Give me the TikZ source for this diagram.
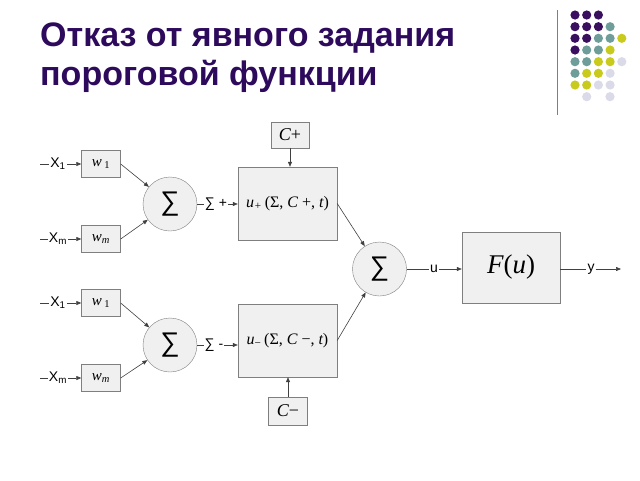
\documentclass[tikz,border=0pt]{standalone}
\usepackage{fontspec}
\setmainfont{Liberation Sans}
\newfontfamily\tnr{Liberation Serif}
\usetikzlibrary{arrows.meta}
\definecolor{ttl}{HTML}{2E0A5C}
\definecolor{dotp}{HTML}{3A0F5F}
\definecolor{dott}{HTML}{6F9E9A}
\definecolor{doty}{HTML}{C8CB1E}
\definecolor{dotl}{HTML}{DADAE8}
\definecolor{edgec}{HTML}{7F7F7F}
\definecolor{wirec}{HTML}{404040}
\newcommand{\dotrow}[2]{\foreach \c [count=\i] in {#2} {\fill[fill=dot\c] ({563.3+11.7*\i},#1) circle (4.6);}}

\begin{document}
\begin{tikzpicture}[x=1pt,y=-1pt,
	box/.style={draw=edgec,fill=black!6,inner sep=0pt},
	sumnode/.style={circle,draw=edgec,fill=black!6,minimum size=54pt,inner sep=0pt,font=\fontsize{27}{27}\selectfont},
	lbl/.style={inner sep=1pt,font=\fontsize{14}{14}\selectfont},
	wire/.style={draw=wirec,line width=0.6pt},
	>={Triangle[length=5pt,width=4pt]}]
		\useasboundingbox (0,0) rectangle (640,480);
		\node[anchor=base west,inner sep=0pt,text=ttl,font=\fontsize{34}{34}\bfseries\selectfont] (title1) at (40,46) {Отказ от явного задания};
		\node[anchor=base west,inner sep=0pt,text=ttl,font=\fontsize{34}{34}\bfseries\selectfont] (title2) at (40,85) {пороговой функции};
		\draw[edgec,line width=1pt] (557,10) -- (557,115);
		\dotrow{15}{p,p,p}
		\dotrow{26.7}{p,p,p,t}
		\dotrow{38.3}{p,p,t,t,y}
		\dotrow{50}{p,t,t,y}
		\dotrow{61.7}{t,t,y,y,l}
		\dotrow{73.3}{t,y,y,l}
		\dotrow{85}{y,y,l,l}
		\fill[dotl] (586.7,96.7) circle (4.6);
		\fill[dotl] (610,96.7) circle (4.6);

		\node[box,minimum width=39pt,minimum height=27pt] (w1a) at (101,164) {\tnr\fontsize{15}{15}\selectfont\itshape w\,\textsubscript{\upshape 1}};
		\node[box,minimum width=39pt,minimum height=27pt] (wma) at (101,239) {\tnr\fontsize{15}{15}\selectfont\itshape w\textsubscript{m}};
		\node[sumnode] (s1) at (170,204) {∑};
		\node[lbl] (x1a) at (58,164) {X\textsubscript{1}};
		\node[lbl] (xma) at (58,239) {X\textsubscript{m}};
		\coordinate (x1a0) at (40,164);
		\coordinate (xma0) at (40,239);
		\draw[wire] (x1a0) -- (x1a.west);
		\draw[wire,->] (x1a.east) -- (w1a.west);
		\draw[wire] (xma0) -- (xma.west);
		\draw[wire,->] (xma.east) -- (wma.west);
		\draw[wire,->] (w1a.east) -- (s1);
		\draw[wire,->] (wma.east) -- (s1);

		\node[box,minimum width=39pt,minimum height=27pt] (w1b) at (101,303) {\tnr\fontsize{15}{15}\selectfont\itshape w\,\textsubscript{\upshape 1}};
		\node[box,minimum width=39pt,minimum height=27pt] (wmb) at (101,378) {\tnr\fontsize{15}{15}\selectfont\itshape w\textsubscript{m}};
		\node[sumnode] (s2) at (170,345) {∑};
		\node[lbl] (x1b) at (58,303) {X\textsubscript{1}};
		\node[lbl] (xmb) at (58,378) {X\textsubscript{m}};
		\coordinate (x1b0) at (40,303);
		\coordinate (xmb0) at (40,378);
		\draw[wire] (x1b0) -- (x1b.west);
		\draw[wire,->] (x1b.east) -- (w1b.west);
		\draw[wire] (xmb0) -- (xmb.west);
		\draw[wire,->] (xmb.east) -- (wmb.west);
		\draw[wire,->] (w1b.east) -- (s2);
		\draw[wire,->] (wmb.east) -- (s2);

		\node[box,minimum width=99pt,minimum height=73pt] (up) at (287.5,203.5) {\tnr\fontsize{16}{16}\selectfont\itshape u\textsubscript{+}\,\upshape(Σ, \itshape C \upshape+, \itshape t\upshape)};
		\node[box,minimum width=99pt,minimum height=73pt] (um) at (287.5,340.5) {\tnr\fontsize{16}{16}\selectfont\itshape u\textsubscript{\upshape −}\,\upshape(Σ, \itshape C \upshape−, \itshape t\upshape)};
		\node[box,minimum width=38pt,minimum height=26pt] (cp) at (290,135) {\tnr\fontsize{18}{18}\selectfont\itshape C\upshape+};
		\node[box,minimum width=39pt,minimum height=28pt] (cm) at (288,411) {\tnr\fontsize{18}{18}\selectfont\itshape C\upshape−};
		\draw[wire,->] (cp.south) -- (cp.south |- up.north);
		\draw[wire,->] (cm.north) -- (cm.north |- um.south);
		\node[lbl] (sp) at (216,204) {∑ +};
		\node[lbl] (sm) at (214,345) {∑ -};
		\draw[wire] (s1) -- (sp.west);
		\draw[wire,->] (sp.east) -- (up.west |- sp);
		\draw[wire] (s2) -- (sm.west);
		\draw[wire,->] (sm.east) -- (um.west |- sm);

		\node[sumnode] (s3) at (379.5,269) {∑};
		\draw[wire,->] (up.east) -- (s3);
		\draw[wire,->] (um.east) -- (s3);
		\node[box,minimum width=98pt,minimum height=71pt] (fu) at (511,267.5) {\tnr\fontsize{27}{27}\selectfont\itshape F\upshape(\itshape u\upshape)};
		\node[lbl] (u) at (434,269) {u};
		\draw[wire] (s3) -- (u.west);
		\draw[wire,->] (u.east) -- (u -| fu.west);
		\node[lbl] (y) at (591,269) {y};
		\coordinate (yend) at (621,269);
		\draw[wire] (y -| fu.east) -- (y.west);
		\draw[wire,->] (y.east) -- (yend);
	\end{tikzpicture}
\end{document}
